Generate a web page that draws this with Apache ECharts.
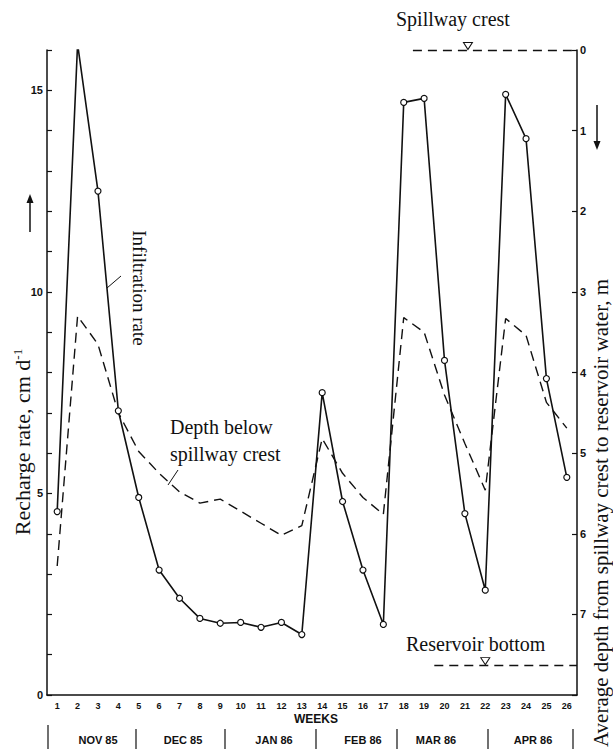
<!DOCTYPE html>
<html>
<head>
<meta charset="utf-8">
<script src="https://cdn.jsdelivr.net/npm/echarts@6/dist/echarts.min.js"></script>
<style>
  html, body { margin: 0; padding: 0; background: #fff; }
  #chart { width: 613px; height: 749px; }
</style>
</head>
<body>
<div id="chart"></div>
<script>
// weeks Nov 85 - Apr 86
const weeks = ['1','2','3','4','5','6','7','8','9','10','11','12','13',
               '14','15','16','17','18','19','20','21','22','23','24','25','26'];
// recharge (infiltration) rate, cm/d
const infiltration = [4.55, 16.15, 12.5, 7.05, 4.9, 3.1, 2.4, 1.9, 1.78, 1.8, 1.68, 1.8, 1.5,
                      7.5, 4.8, 3.1, 1.75, 14.7, 14.8, 8.3, 4.5, 2.6, 14.9, 13.8, 7.85, 5.4];
// depth below spillway crest, m
const depth = [6.4, 3.3, 3.65, 4.5, 4.98, 5.25, 5.48, 5.62, 5.57, 5.72, 5.87, 6.02, 5.9,
               4.82, 5.25, 5.55, 5.76, 3.32, 3.5, 4.28, 4.88, 5.46, 3.33, 3.54, 4.37, 4.69];
const months = ['NOV 85', 'DEC 85', 'JAN 86', 'FEB 86', 'MAR 86', 'APR 86'];

// reference levels (depth, m) and where their dashed lines start (week)
const spillwayDepth = 0;
const reservoirBottomDepth = 7.63;
const spillwayFrom = 18.45, bottomFrom = 19.5;
const spillwayMark = 21.15, bottomMark = 22;

const ink = '#111';
const serif = '"Liberation Serif", "DejaVu Serif", serif';
const sans = '"Liberation Sans", Arial, sans-serif';

let chart = echarts.init(document.getElementById('chart'), null, {renderer: 'svg'});

// pixel layout of the month strip under the axis
const monthCenters = [98, 183, 274, 363, 436, 533];
const dividers = [48, 136, 225, 316, 397, 488, 573];

let graphics = [];
months.forEach((m, i) => {
    graphics.push({type: 'text', x: monthCenters[i], y: 740,
        style: {text: m, font: 'bold 11px ' + sans, fill: ink, align: 'center', verticalAlign: 'middle'}});
});
dividers.forEach((x, i) => {
    graphics.push({type: 'line', shape: {x1: x, y1: i === 0 ? 725 : 729, x2: x, y2: 749},
        style: {stroke: ink, lineWidth: 1.2}});
});
graphics.push(
    {type: 'text', x: 316, y: 719, style: {text: 'WEEKS', font: 'bold 12px ' + sans, fill: ink, align: 'center', verticalAlign: 'middle'}},
    // axis names
    {type: 'text', x: 22, y: 442, rotation: Math.PI / 2,
        style: {text: 'Recharge rate, cm d{sup|-1}', font: '22px ' + serif, fill: ink, align: 'center', verticalAlign: 'middle',
            rich: {sup: {fontSize: 13, fontFamily: serif, verticalAlign: 'top', padding: [0, 0, 9, 0]}}}},
    {type: 'text', x: 601, y: 747, rotation: Math.PI / 2,
        style: {text: 'Average depth from spillway crest to reservoir water, m', font: '21px ' + serif, fill: ink, align: 'left', verticalAlign: 'middle'}},
    // arrows
    {type: 'line', shape: {x1: 30, y1: 232, x2: 30, y2: 200}, style: {stroke: ink, lineWidth: 1.5}},
    {type: 'polygon', shape: {points: [[30, 194], [26.5, 203], [33.5, 203]]}, style: {fill: ink}},
    {type: 'line', shape: {x1: 597, y1: 105, x2: 597, y2: 143}, style: {stroke: ink, lineWidth: 1.5}},
    {type: 'polygon', shape: {points: [[597, 150], [593.5, 141], [600.5, 141]]}, style: {fill: ink}},
    // curve labels
    {type: 'text', x: 139, y: 288, rotation: -Math.PI / 2,
        style: {text: 'Infiltration rate', font: '19px ' + serif, fill: ink, align: 'center', verticalAlign: 'middle'}},
    {type: 'line', shape: {x1: 107, y1: 288, x2: 121, y2: 276}, style: {stroke: ink, lineWidth: 1}},
    {type: 'text', x: 170, y: 427, style: {text: 'Depth below', font: '20px ' + serif, fill: ink, verticalAlign: 'middle'}},
    {type: 'text', x: 170, y: 454, style: {text: 'spillway crest', font: '20px ' + serif, fill: ink, verticalAlign: 'middle'}},
    {type: 'line', shape: {x1: 168, y1: 485, x2: 178, y2: 470}, style: {stroke: ink, lineWidth: 1}},
    {type: 'text', x: 396, y: 19, style: {text: 'Spillway crest', font: '20px ' + serif, fill: ink, verticalAlign: 'middle'}},
    {type: 'text', x: 406, y: 644, style: {text: 'Reservoir bottom', font: '20px ' + serif, fill: ink, verticalAlign: 'middle'}}
);

let option = {
    animation: false,
    backgroundColor: '#fff',
    grid: {left: 47, right: 36, top: 50, bottom: 54},
    xAxis: [
        {
            type: 'category',
            data: weeks,
            boundaryGap: true,
            axisLine: {lineStyle: {color: ink, width: 1.5}},
            axisTick: {inside: true, length: 5, lineStyle: {color: ink, width: 1.2}},
            axisLabel: {interval: 0, color: ink, fontFamily: sans, fontWeight: 'bold', fontSize: 9, margin: 6},
            splitLine: {show: false}
        },
        {
            type: 'value',
            min: 0.5,
            max: 26.5,
            show: false
        }
    ],
    yAxis: [
        {
            type: 'value',
            min: 0,
            max: 16,
            interval: 1,
            axisLine: {show: true, lineStyle: {color: ink, width: 1.5}},
            axisTick: {show: true, inside: true, length: 5, lineStyle: {color: ink, width: 1.2}},
            axisLabel: {color: ink, fontFamily: sans, fontWeight: 'bold', fontSize: 11, margin: 4,
                formatter: v => (v % 5 === 0 ? String(v) : '')},
            splitLine: {show: false}
        },
        {
            type: 'value',
            position: 'right',
            inverse: true,
            min: 0,
            max: 8,
            interval: 1,
            axisLine: {show: true, lineStyle: {color: ink, width: 1.5}},
            axisTick: {show: true, inside: true, length: 5, lineStyle: {color: ink, width: 1.2}},
            axisLabel: {color: ink, fontFamily: sans, fontWeight: 'bold', fontSize: 11, margin: 3,
                formatter: v => (v < 8 ? String(v) : '')},
            splitLine: {show: false}
        }
    ],
    graphic: graphics,
    series: [
        {
            name: 'Depth below spillway crest',
            type: 'line',
            xAxisIndex: 1,
            yAxisIndex: 1,
            data: weeks.map((w, i) => [Number(w), depth[i]]),
            showSymbol: false,
            lineStyle: {color: ink, width: 1.4, type: [10, 6]},
            z: 2,
            markLine: {
                silent: true,
                symbol: ['none', 'none'],
                label: {show: false},
                lineStyle: {color: ink, width: 1.3, type: [9, 6]},
                data: [
                    [{coord: [spillwayFrom, spillwayDepth]}, {coord: [26.5, spillwayDepth]}],
                    [{coord: [bottomFrom, reservoirBottomDepth]}, {coord: [26.5, reservoirBottomDepth]}]
                ]
            },
            markPoint: {
                silent: true,
                symbol: 'triangle',
                symbolRotate: 180,
                symbolSize: [9, 7],
                label: {show: false},
                itemStyle: {color: '#fff', borderColor: ink, borderWidth: 1},
                data: [
                    {coord: [spillwayMark, spillwayDepth], symbolOffset: [0, -4]},
                    {coord: [bottomMark, reservoirBottomDepth], symbolOffset: [0, -4]}
                ]
            }
        },
        {
            name: 'Infiltration rate',
            type: 'line',
            xAxisIndex: 1,
            yAxisIndex: 0,
            data: weeks.map((w, i) => [Number(w), infiltration[i]]),
            symbol: 'circle',
            symbolSize: 6,
            showAllSymbol: true,
            itemStyle: {color: '#fff', borderColor: ink, borderWidth: 1.2},
            lineStyle: {color: ink, width: 1.6},
            z: 3
        }
    ]
};
chart.setOption(option);
</script>
</body>
</html>
